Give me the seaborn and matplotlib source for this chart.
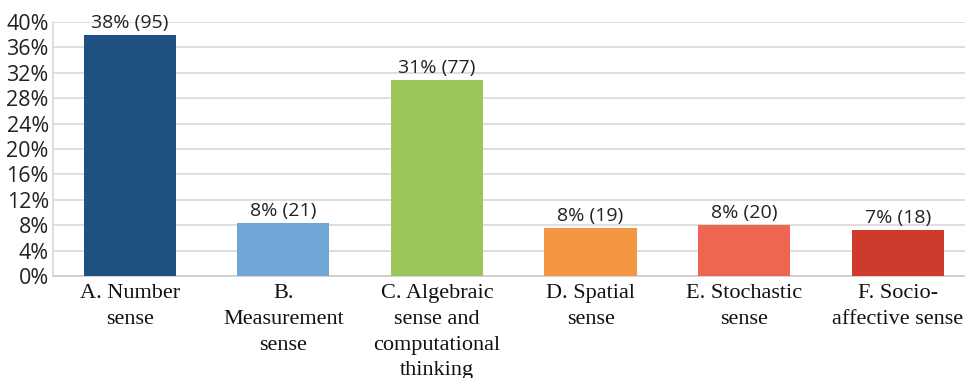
import matplotlib
matplotlib.use("Agg")
import matplotlib.pyplot as plt
import seaborn as sns
import pandas as pd

# Content-sense categories, response counts and their share of all 250 responses
categories = [
    "A. Number\nsense",
    "B.\nMeasurement\nsense",
    "C. Algebraic\nsense and\ncomputational\nthinking",
    "D. Spatial\nsense",
    "E. Stochastic\nsense",
    "F. Socio-\naffective sense",
]
counts = [95, 21, 77, 19, 20, 18]
shares = [38.0, 8.4, 30.8, 7.6, 8.0, 7.2]
bar_colors = ["#1F5180", "#6FA6D6", "#9BC659", "#F39742", "#EE6651", "#CE3A2B"]
y_ticks = [0, 4, 8, 12, 16, 20, 24, 28, 32, 36, 40]

df = pd.DataFrame({"category": categories, "share": shares, "count": counts})

sns.set_theme(style="white")
plt.rcParams["font.family"] = ["Open Sans", "DejaVu Sans"]
plt.rcParams["font.serif"] = ["Liberation Serif", "DejaVu Serif"]

fig = plt.figure(figsize=(9.65, 3.78), dpi=100)
ax = fig.add_axes([0.0549, 0.27, 0.955, 0.672])

sns.barplot(
    data=df, x="category", y="share", hue="category",
    palette=bar_colors, legend=False, width=0.6, ax=ax,
    saturation=1, edgecolor="none", zorder=3,
)

ax.set_ylim(0, 40)
ax.set_xlim(-0.5, 5.5)
ax.set_yticks(y_ticks)
ax.set_yticklabels([f"{t}%" for t in y_ticks], fontsize=15.5, color="#222222")
ax.yaxis.grid(True, color="#D5D5D5", linewidth=1.1, zorder=0)
ax.set_axisbelow(True)
ax.tick_params(axis="y", length=3, width=1, color="#D5D5D5", pad=0)
ax.tick_params(axis="x", length=0, pad=6)

ax.set_xticks(range(len(categories)))
ax.set_xticklabels(
    categories, fontfamily="serif",
    fontsize=16, color="#111111", linespacing=1.48,
)

for i, (s, c) in enumerate(zip(shares, counts)):
    ax.text(i, s + 0.45, f"{round(s)}% ({c})", ha="center", va="bottom",
            fontsize=14, color="#222222")

for side in ["top", "right"]:
    ax.spines[side].set_visible(False)
ax.spines["left"].set_color("#D5D5D5")
ax.spines["left"].set_linewidth(1.1)
ax.spines["bottom"].set_color("#C8C8C8")
ax.spines["bottom"].set_linewidth(1.1)

ax.set_xlabel("")
ax.set_ylabel("")

fig.savefig("out.png", dpi=100)
